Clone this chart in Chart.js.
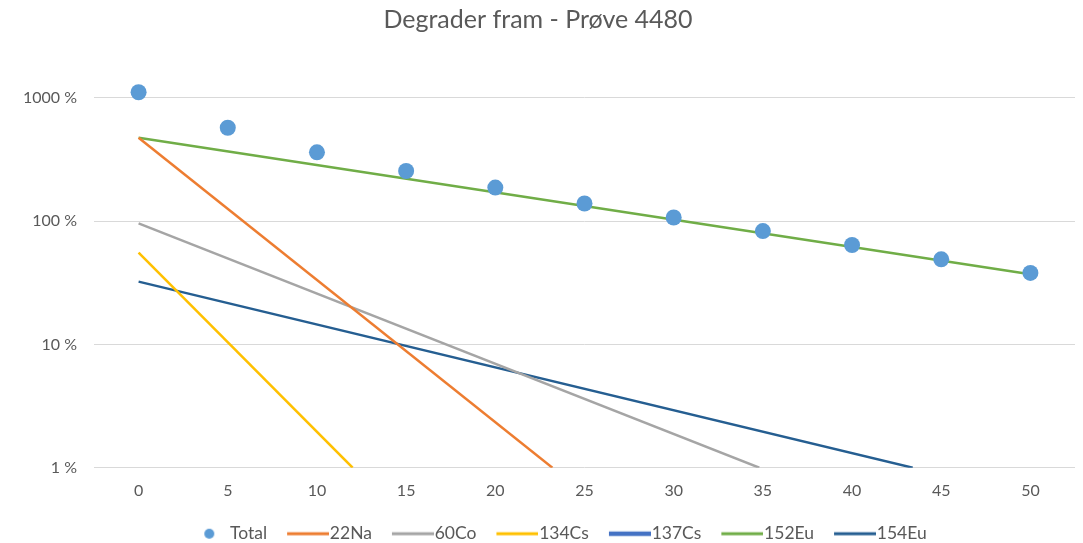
<!DOCTYPE html>
<html>
<head>
<meta charset="utf-8">
<script src="https://cdn.jsdelivr.net/npm/chart.js@4"></script>
<style>
  body { margin: 0; background: #fff; }
  #wrap { width: 1083px; height: 543px; position: relative; }
</style>
</head>
<body>
<div id="wrap"><canvas id="chart"></canvas></div>
<script>
// --- DATA (percent, log axis) ---
const years = [0, 5, 10, 15, 20, 25, 30, 35, 40, 45, 50];
const totalPct = [1110, 572, 361, 255, 187, 139, 107, 83, 64, 49, 38];

// each nuclide line: start at year 0, end where it leaves the plot (or at 50)
const na22Years = [0, 23.2];
const na22Pct = [475, 1];
const co60Years = [0, 34.8];
const co60Pct = [96, 1];
const cs134Years = [0, 12.0];
const cs134Pct = [55.4, 1];
const cs137Years = [];
const cs137Pct = [];
const eu152Years = [0, 50];
const eu152Pct = [475, 37];
const eu154Years = [0, 43.4];
const eu154Pct = [32.3, 1];

const yTicks = [1, 10, 100, 1000];
const titleText = "Degrader fram - Prøve 4480";

const FONT = "Lato, 'Noto Sans', sans-serif";
const GREY_TEXT = "#595959";
const PLOT_BOTTOM = 467.7;

function pts(xs, ys) {
    return xs.map((x, i) => ({ x: x, y: ys[i] }));
}

// legend icons (60px wide, drawn centred on the 44px legend box):
// a 42px line ending right before the label, or a dot for the scatter series
function makeIcon(color, isDot, lw) {
    const c = document.createElement("canvas");
    c.width = 60;
    c.height = 16;
    const g = c.getContext("2d");
    if (isDot) {
        g.fillStyle = color;
        g.beginPath();
        g.arc(40, 8, 5, 0, Math.PI * 2);
        g.fill();
    } else {
        g.strokeStyle = color;
        g.lineWidth = lw;
        g.beginPath();
        g.moveTo(18, 8);
        g.lineTo(60, 8);
        g.stroke();
    }
    return c;
}

function lineSet(label, xs, ys, color, legendWidth) {
    return {
        label: label,
        data: pts(xs, ys),
        showLine: true,
        borderColor: color,
        backgroundColor: color,
        borderWidth: 2.5,
        pointRadius: 0,
        legendIcon: makeIcon(color, false, legendWidth || 3)
    };
}

const datasets = [
    {
        label: "Total",
        data: pts(years, totalPct),
        showLine: false,
        pointRadius: 8,
        pointBorderWidth: 0,
        backgroundColor: "#5B9BD5",
        borderColor: "#5B9BD5",
        legendIcon: makeIcon("#5B9BD5", true)
    },
    lineSet("22Na", na22Years, na22Pct, "#ED7D31"),
    lineSet("60Co", co60Years, co60Pct, "#A5A5A5"),
    lineSet("134Cs", cs134Years, cs134Pct, "#FFC000"),
    lineSet("137Cs", cs137Years, cs137Pct, "#4472C4", 4.5),
    lineSet("152Eu", eu152Years, eu152Pct, "#70AD47"),
    lineSet("154Eu", eu154Years, eu154Pct, "#255E91")
];

// move the legend a bit right/down so it sits like the original
const legendNudge = {
    id: "legendNudge",
    afterLayout(chart) {
        const lg = chart.legend;
        lg.top += 9.5;
        lg.bottom += 9.5;
        lg.left += 14;
        lg.right += 14;
    }
};

new Chart(document.getElementById("chart"), {
    type: "scatter",
    data: { datasets: datasets },
    plugins: [legendNudge],
    options: {
        responsive: true,
        maintainAspectRatio: false,
        animation: false,
        layout: { padding: { left: 0, right: 7, top: 0, bottom: 0 } },
        plugins: {
            title: {
                display: true,
                text: titleText,
                color: GREY_TEXT,
                font: { family: FONT, size: 25, weight: "normal" },
                padding: { top: 5, bottom: 25.7 }
            },
            legend: {
                position: "bottom",
                labels: {
                    usePointStyle: true,
                    pointStyleWidth: 44,
                    padding: 10,
                    color: GREY_TEXT,
                    font: { family: FONT, size: 17.5 },
                    generateLabels(chart) {
                        const items = Chart.defaults.plugins.legend.labels.generateLabels(chart);
                        items.forEach((it) => {
                            it.pointStyle = chart.data.datasets[it.datasetIndex].legendIcon;
                        });
                        return items;
                    }
                }
            },
            tooltip: { enabled: false }
        },
        scales: {
            x: {
                type: "linear",
                min: -2.5,
                max: 52.5,
                afterBuildTicks: (s) => { s.ticks = years.map((v) => ({ value: v })); },
                afterFit: (s) => { s.height = 543 - s.chart.legend.height - PLOT_BOTTOM; },
                grid: { display: false, drawTicks: false },
                border: { display: false },
                ticks: { color: GREY_TEXT, font: { family: FONT, size: 16 }, padding: 14 }
            },
            y: {
                type: "logarithmic",
                min: 1,
                max: 2000,
                afterBuildTicks: (s) => { s.ticks = yTicks.map((v) => ({ value: v })); },
                afterFit: (s) => { s.width = 94; },
                grid: { color: "#D9D9D9", lineWidth: 1, drawTicks: false },
                border: { display: false },
                ticks: {
                    color: GREY_TEXT,
                    font: { family: FONT, size: 16 },
                    padding: 17,
                    callback: (v) => v + " %"
                }
            }
        }
    }
});
</script>
</body>
</html>
